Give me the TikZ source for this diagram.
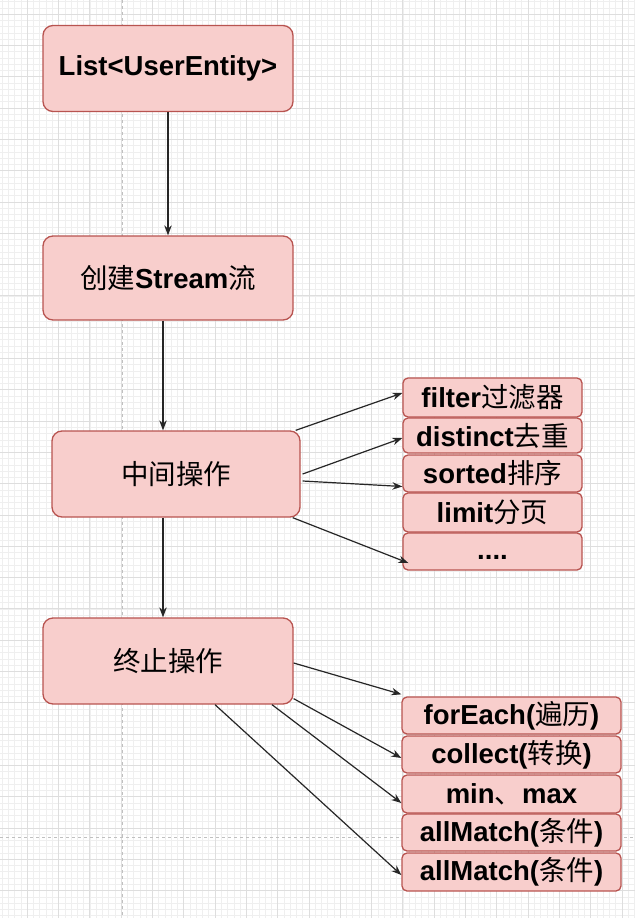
\documentclass[tikz,border=0pt]{standalone}
\usepackage{fontspec}
\setmainfont{Liberation Sans}
\newfontfamily\cjk{Noto Sans CJK SC}
\newcommand\zhtxt[1]{{\cjk\mdseries #1}}
\usetikzlibrary{arrows.meta}
\definecolor{boxfill}{HTML}{F8CECC}
\definecolor{boxline}{HTML}{B85450}
\definecolor{minorgrid}{HTML}{EFEFEF}
\definecolor{majorgrid}{HTML}{DEDEDE}
\definecolor{guide}{HTML}{C0C0C0}
\begin{document}
\begin{tikzpicture}[x=1pt,y=-1pt,
  txt/.style={font=\fontsize{27.5}{30}\selectfont\bfseries, inner sep=0pt},
  bigbox/.style={txt, draw=boxline, fill=boxfill, line width=1.3pt, rounded corners=10pt, minimum width=#1, minimum height=86pt},
  smallbox/.style={txt, draw=boxline, fill=boxfill, line width=1.3pt, rounded corners=5pt, minimum width=#1},
  arr/.style={draw=black!85, line width=1.2pt, -{Stealth[length=10pt,width=7.5pt]}},
]
\useasboundingbox (0,0) rectangle (635,918);
\fill[white] (0,0) rectangle (635,918);
% grid
\foreach \i in {0,...,101} \draw[minorgrid, line width=0.7pt] ({2.26+6.26*\i},0) -- ({2.26+6.26*\i},918);
\foreach \i in {0,...,146} \draw[minorgrid, line width=0.7pt] (0,{1.68+6.26*\i}) -- (635,{1.68+6.26*\i});
\foreach \i in {0,...,19} \draw[majorgrid, line width=0.9pt] ({27.3+31.3*\i},0) -- ({27.3+31.3*\i},918);
\foreach \i in {0,...,28} \draw[majorgrid, line width=0.9pt] (0,{14.2+31.3*\i}) -- (635,{14.2+31.3*\i});
\draw[guide, dashed, line width=1pt] (122.5,0) -- (122.5,918);
\draw[guide, dashed, line width=1pt] (0,837) -- (635,837);

% main column
\node[bigbox=250pt] (b1) at (168,68.5) {List<UserEntity>};
\node[bigbox=250pt, minimum height=84pt] (b2) at (168,278) {\zhtxt{创建}Stream\zhtxt{流}};
\node[bigbox=248pt] (b3) at (176,474) {\zhtxt{中间操作}};
\node[bigbox=250pt] (b4) at (168,661) {\zhtxt{终止操作}};

% intermediate operations
\node[smallbox=179pt, minimum height=39pt] (f1) at (492.5,397.5) {filter\zhtxt{过滤器}};
\node[smallbox=179pt, minimum height=35pt] (f2) at (492.5,435.5) {distinct\zhtxt{去重}};
\node[smallbox=179pt, minimum height=37pt] (f3) at (492.5,473.5) {sorted\zhtxt{排序}};
\node[smallbox=179pt, minimum height=39pt] (f4) at (492.5,512.5) {limit\zhtxt{分页}};
\node[smallbox=179pt, minimum height=37pt, text height=15pt, text depth=0pt] (f5) at (492.5,551.5) {....};

% terminal operations
\node[smallbox=219pt, minimum height=37pt] (t1) at (511.5,715.5) {forEach(\zhtxt{遍历})};
\node[smallbox=219pt, minimum height=37pt] (t2) at (511.5,754.5) {collect(\zhtxt{转换})};
\node[smallbox=219pt, minimum height=38pt] (t3) at (511.5,794) {min\zhtxt{、}max};
\node[smallbox=219pt, minimum height=37pt] (t4) at (511.5,832.5) {allMatch(\zhtxt{条件})};
\node[smallbox=219pt, minimum height=38pt] (t5) at (511.5,872) {allMatch(\zhtxt{条件})};

% vertical flow
\draw[arr] (b1.south) -- (b2.north);
\draw[arr] ([xshift=-5pt]b2.south) -- ([xshift=-13pt]b3.north);
\draw[arr] ([xshift=-13pt]b3.south) -- ([xshift=-5pt]b4.north);

% fan-out from 中间操作
\draw[arr] ([xshift=-5pt]b3.north east) -- ([yshift=4.5pt]f1.west);
\draw[arr] ([xshift=2pt]b3.east) -- ([yshift=-2.5pt]f2.west);
\draw[arr] ([xshift=2pt,yshift=-7pt]b3.east) -- ([yshift=-13pt]f3.west);
\draw[arr] ([xshift=-8pt]b3.south east) -- ([xshift=6pt,yshift=-11.5pt]f5.west);

% fan-out from 终止操作
\draw[arr] ([yshift=-2pt]b4.east) -- ([yshift=2pt]t1.north west);
\draw[arr] ([yshift=6pt]b4.south east) -- ([yshift=-3.5pt]t2.west);
\draw[arr] ([xshift=104pt]b4.south) -- ([yshift=-9pt]t3.west);
\draw[arr] ([xshift=47pt]b4.south) -- ([yshift=-3pt]t5.west);
\end{tikzpicture}
\end{document}
